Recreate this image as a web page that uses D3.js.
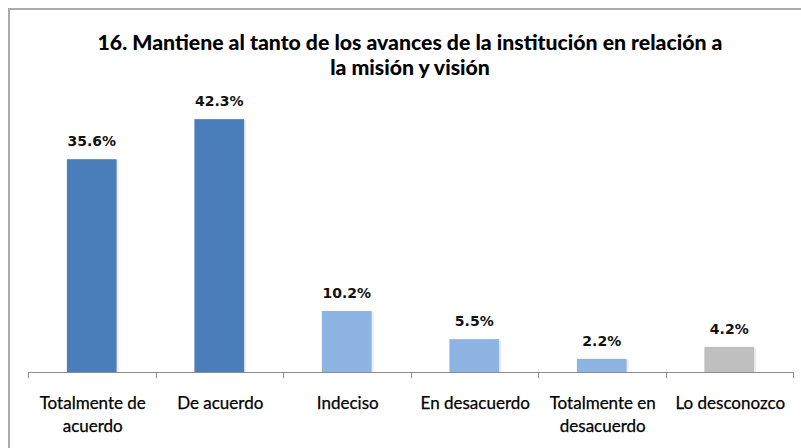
<!DOCTYPE html>
<html><head><meta charset="utf-8">
<script src="https://cdn.jsdelivr.net/npm/d3@7"></script>
<style>body{margin:0;background:#fff}svg{display:block}</style>
</head><body>
<svg id="c" width="801" height="448"></svg>
<script>
const categories = [["Totalmente de","acuerdo"],["De acuerdo"],["Indeciso"],["En desacuerdo"],["Totalmente en","desacuerdo"],["Lo desconozco"]];
const values = [35.6, 42.3, 10.2, 5.5, 2.2, 4.2];
const colors = ["#4a7ebb","#4a7ebb","#8db4e2","#8db4e2","#8db4e2","#bfbfbf"];
const titleLines = ["16. Mantiene al tanto de los avances de la institución en relación a","la misión y visión"];

const svg = d3.select("#c");
// frame
svg.append("rect").attr("x",9).attr("y",9).attr("width",820).attr("height",460)
  .attr("fill","#fff").attr("stroke","#aaaaaa").attr("stroke-width",2);

const x = d3.scaleBand().domain(d3.range(categories.length)).range([28,793]).paddingInner(0.61).paddingOuter(0.305);
const y = d3.scaleLinear().domain([0,45]).range([372,103]);

// bar shadows
svg.selectAll("rect.sh").data(values).join("rect").attr("class","sh")
  .attr("x",(d,i)=>x(i)+2).attr("y",d=>y(d)+1).attr("width",x.bandwidth()).attr("height",d=>372-y(d))
  .attr("fill","#000").attr("opacity",0.08);
svg.selectAll("rect.bar").data(values).join("rect").attr("class","bar")
  .attr("x",(d,i)=>x(i)).attr("y",d=>y(d)).attr("width",x.bandwidth()).attr("height",d=>372-y(d))
  .attr("fill",(d,i)=>colors[i]);

// axis
const step = x.step();
svg.append("line").attr("x1",28).attr("x2",793).attr("y1",372.5).attr("y2",372.5).attr("stroke","#8c8c8c").attr("stroke-width",1);
d3.range(categories.length+1).forEach(i=>{
  const xx = Math.round(28 + i*step)+0.5;
  svg.append("line").attr("x1",xx).attr("x2",xx).attr("y1",372).attr("y2",378).attr("stroke","#8c8c8c");
});

// value labels
svg.selectAll("text.v").data(values).join("text").attr("class","v")
  .attr("x",(d,i)=>x(i)+x.bandwidth()/2).attr("y",d=>y(d)-13)
  .attr("text-anchor","middle").attr("font-family","DejaVu Sans").attr("font-weight","bold")
  .attr("font-size",14).attr("fill","#111").text(d=>d.toFixed(1)+"%");

// category labels
categories.forEach((lines,i)=>{
  const t = svg.append("text").attr("text-anchor","middle").attr("font-family","Lato").attr("font-size",17)
    .attr("fill","#000").attr("stroke","#000").attr("stroke-width",0.25);
  lines.forEach((l,j)=>t.append("tspan").attr("x",x(i)+x.bandwidth()/2+1).attr("y",409+j*23).text(l));
});

// title
const tt = titleLines.map((l,j)=>svg.append("text").attr("x",410).attr("y",50+j*25).attr("text-anchor","middle")
    .attr("font-family","Lato").attr("font-weight","900").attr("font-size",20).attr("fill","#000").text(l));
const w0 = tt[0].node().getComputedTextLength();
const fs = 20*625/w0;
tt.forEach(t=>t.attr("font-size",fs));
</script>
</body></html>
